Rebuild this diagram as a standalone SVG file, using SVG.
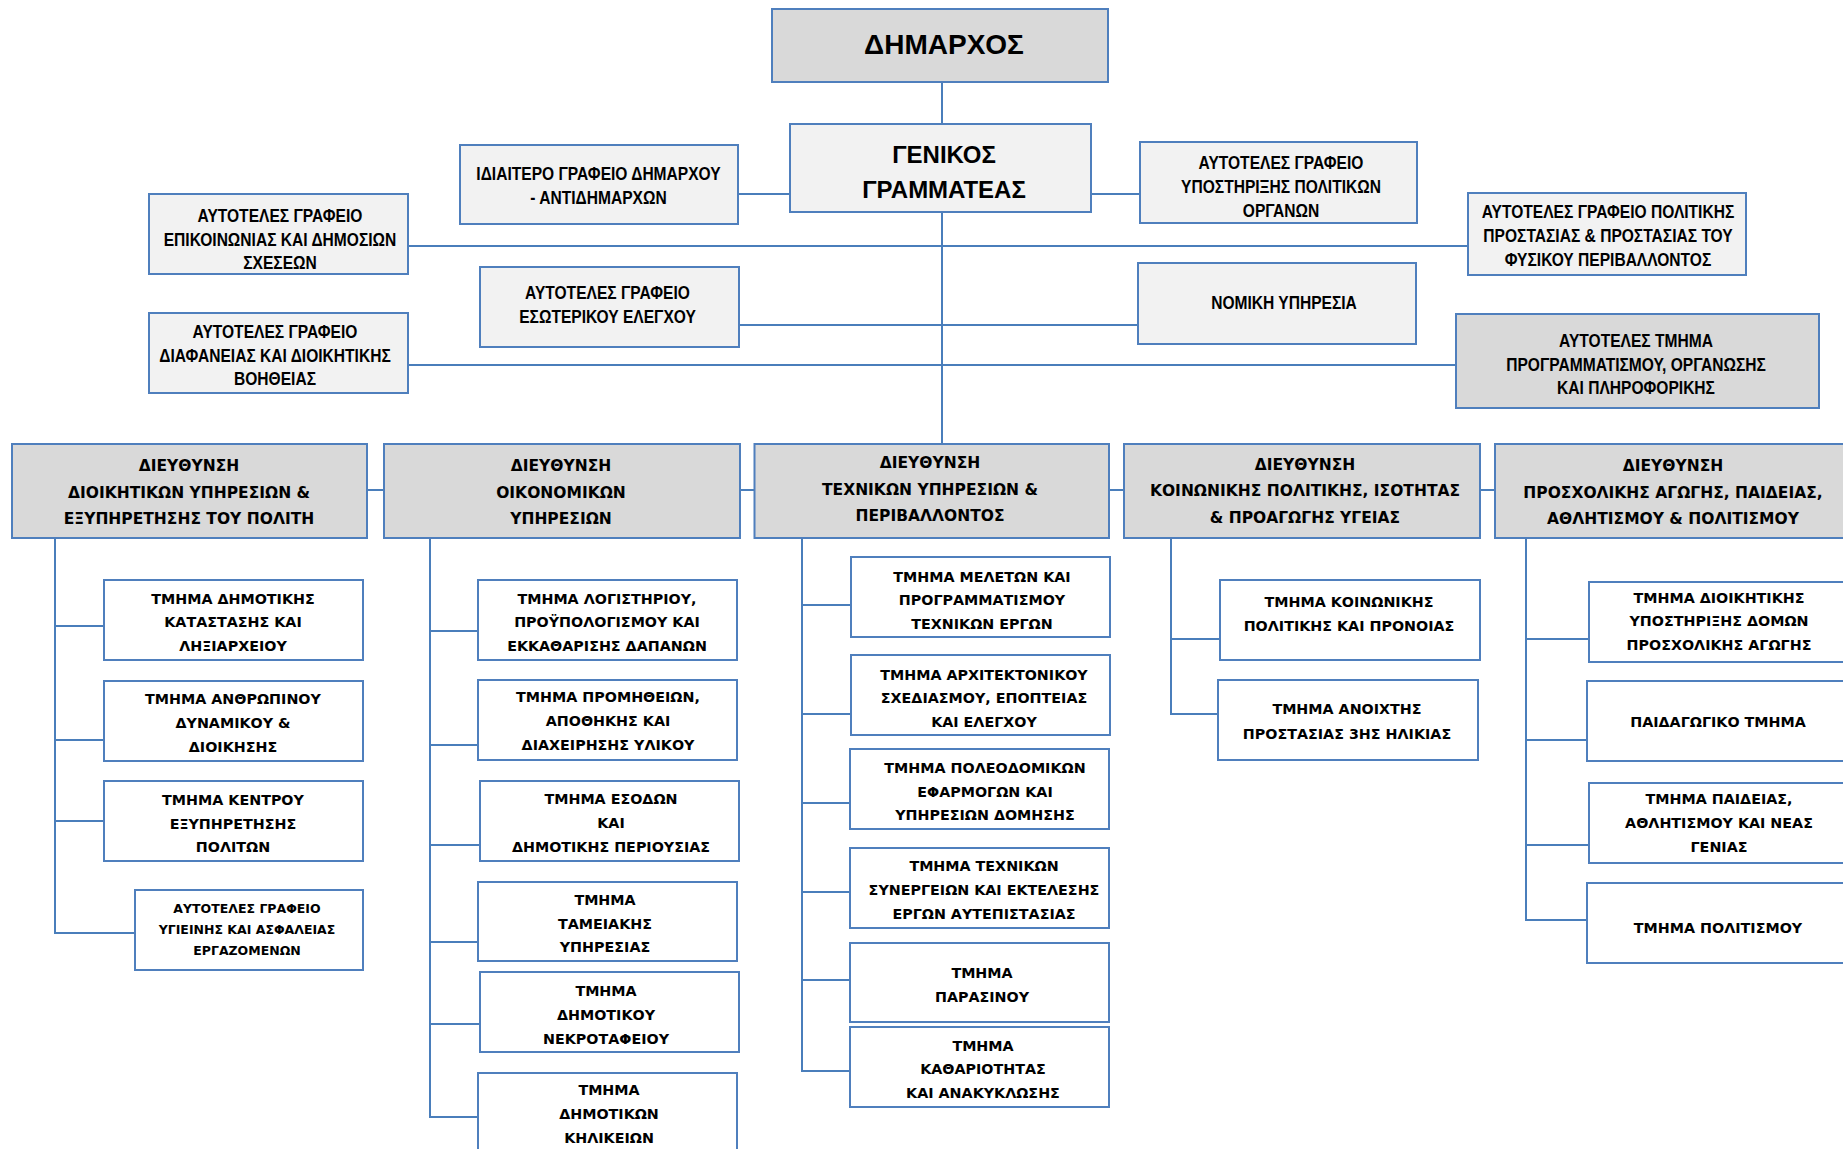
<svg xmlns="http://www.w3.org/2000/svg" width="1843" height="1149" viewBox="0 0 1843 1149">
<style>
.ln{stroke:#4a7ebb;stroke-width:2;fill:none}
.g1,.g2,.w{stroke:#4f7fbd;stroke-width:2}
.g1{fill:#d9d9d9}.g2{fill:#f2f2f2}.w{fill:#ffffff}
text{font-weight:bold;text-anchor:middle;fill:#000}
.t{font-family:"Liberation Sans",sans-serif;font-size:19px}
.t1{font-family:"Liberation Sans",sans-serif;font-size:28px}
.t2{font-family:"Liberation Sans",sans-serif;font-size:24px}
.d{font-family:"DejaVu Sans",sans-serif;font-size:15.5px}
.s{font-family:"DejaVu Sans",sans-serif;font-size:14.3px}
.xs{font-family:"DejaVu Sans",sans-serif;font-size:12.5px}
</style>
<g id="connectors">
<line class="ln" x1="942" y1="82" x2="942" y2="444"/>
<line class="ln" x1="738" y1="194" x2="790" y2="194"/>
<line class="ln" x1="1091" y1="194" x2="1140" y2="194"/>
<line class="ln" x1="408" y1="246" x2="1468" y2="246"/>
<line class="ln" x1="739" y1="325" x2="1138" y2="325"/>
<line class="ln" x1="408" y1="365" x2="1456" y2="365"/>
<line class="ln" x1="367" y1="490" x2="1495" y2="490"/>
<polyline class="ln" points="55,538 55,933 135,933"/>
<line class="ln" x1="55" y1="626" x2="104" y2="626"/>
<line class="ln" x1="55" y1="740" x2="104" y2="740"/>
<line class="ln" x1="55" y1="821" x2="104" y2="821"/>
<polyline class="ln" points="430,538 430,1117 478,1117"/>
<line class="ln" x1="430" y1="631" x2="478" y2="631"/>
<line class="ln" x1="430" y1="745" x2="478" y2="745"/>
<line class="ln" x1="430" y1="845" x2="480" y2="845"/>
<line class="ln" x1="430" y1="942" x2="478" y2="942"/>
<line class="ln" x1="430" y1="1024" x2="480" y2="1024"/>
<polyline class="ln" points="802,538 802,1071 850,1071"/>
<line class="ln" x1="802" y1="605" x2="851" y2="605"/>
<line class="ln" x1="802" y1="714" x2="851" y2="714"/>
<line class="ln" x1="802" y1="803" x2="850" y2="803"/>
<line class="ln" x1="802" y1="892" x2="850" y2="892"/>
<line class="ln" x1="802" y1="980" x2="850" y2="980"/>
<polyline class="ln" points="1171,538 1171,714 1218,714"/>
<line class="ln" x1="1171" y1="639" x2="1220" y2="639"/>
<polyline class="ln" points="1526,538 1526,920 1588,920"/>
<line class="ln" x1="1526" y1="639" x2="1589" y2="639"/>
<line class="ln" x1="1526" y1="740" x2="1588" y2="740"/>
<line class="ln" x1="1526" y1="845" x2="1589" y2="845"/>
</g>
<g id="dimarxos"><rect class="g1" x="772" y="9" width="336" height="73"/><text class="t1" x="944" y="53.5">ΔΗΜΑΡΧΟΣ</text></g>
<g id="genikos"><rect class="g2" x="790" y="124" width="301" height="88"/><text class="t2" x="944" y="162.5">ΓΕΝΙΚΟΣ</text><text class="t2" x="944" y="197.5">ΓΡΑΜΜΑΤΕΑΣ</text></g>
<g id="idiaitero"><rect class="g2" x="460" y="145" width="278" height="79"/><text class="t" transform="matrix(0.82 0 0 1 598.5 0)" x="0" y="180.5">ΙΔΙΑΙΤΕΡΟ ΓΡΑΦΕΙΟ ΔΗΜΑΡΧΟΥ</text><text class="t" transform="matrix(0.82 0 0 1 598.5 0)" x="0" y="203.8">- ΑΝΤΙΔΗΜΑΡΧΩΝ</text></g>
<g id="politika-organa"><rect class="g2" x="1140" y="142" width="277" height="81"/><text class="t" transform="matrix(0.82 0 0 1 1281 0)" x="0" y="169">ΑΥΤΟΤΕΛΕΣ ΓΡΑΦΕΙΟ</text><text class="t" transform="matrix(0.82 0 0 1 1281 0)" x="0" y="193">ΥΠΟΣΤΗΡΙΞΗΣ ΠΟΛΙΤΙΚΩΝ</text><text class="t" transform="matrix(0.82 0 0 1 1281 0)" x="0" y="217">ΟΡΓΑΝΩΝ</text></g>
<g id="epikoinonia"><rect class="g2" x="149" y="194" width="259" height="80"/><text class="t" transform="matrix(0.82 0 0 1 280 0)" x="0" y="222">ΑΥΤΟΤΕΛΕΣ ΓΡΑΦΕΙΟ</text><text class="t" transform="matrix(0.82 0 0 1 280 0)" x="0" y="246">ΕΠΙΚΟΙΝΩΝΙΑΣ ΚΑΙ ΔΗΜΟΣΙΩΝ</text><text class="t" transform="matrix(0.82 0 0 1 280 0)" x="0" y="269">ΣΧΕΣΕΩΝ</text></g>
<g id="politiki-prostasia"><rect class="g2" x="1468" y="193" width="278" height="82"/><text class="t" transform="matrix(0.82 0 0 1 1608 0)" x="0" y="218">ΑΥΤΟΤΕΛΕΣ ΓΡΑΦΕΙΟ ΠΟΛΙΤΙΚΗΣ</text><text class="t" transform="matrix(0.82 0 0 1 1608 0)" x="0" y="242">ΠΡΟΣΤΑΣΙΑΣ &amp; ΠΡΟΣΤΑΣΙΑΣ ΤΟΥ</text><text class="t" transform="matrix(0.82 0 0 1 1608 0)" x="0" y="266">ΦΥΣΙΚΟΥ ΠΕΡΙΒΑΛΛΟΝΤΟΣ</text></g>
<g id="esoterikos-elegxos"><rect class="g2" x="480" y="267" width="259" height="80"/><text class="t" transform="matrix(0.82 0 0 1 607.5 0)" x="0" y="299">ΑΥΤΟΤΕΛΕΣ ΓΡΑΦΕΙΟ</text><text class="t" transform="matrix(0.82 0 0 1 607.5 0)" x="0" y="323">ΕΣΩΤΕΡΙΚΟΥ ΕΛΕΓΧΟΥ</text></g>
<g id="nomiki"><rect class="g2" x="1138" y="263" width="278" height="81"/><text class="t" transform="matrix(0.82 0 0 1 1284 0)" x="0" y="309.5">ΝΟΜΙΚΗ ΥΠΗΡΕΣΙΑ</text></g>
<g id="diafaneia"><rect class="g2" x="149" y="313" width="259" height="80"/><text class="t" transform="matrix(0.82 0 0 1 275 0)" x="0" y="338">ΑΥΤΟΤΕΛΕΣ ΓΡΑΦΕΙΟ</text><text class="t" transform="matrix(0.82 0 0 1 275 0)" x="0" y="362">ΔΙΑΦΑΝΕΙΑΣ ΚΑΙ ΔΙΟΙΚΗΤΙΚΗΣ</text><text class="t" transform="matrix(0.82 0 0 1 275 0)" x="0" y="385.5">ΒΟΗΘΕΙΑΣ</text></g>
<g id="programmatismos"><rect class="g1" x="1456" y="314" width="363" height="94"/><text class="t" transform="matrix(0.82 0 0 1 1636 0)" x="0" y="347">ΑΥΤΟΤΕΛΕΣ ΤΜΗΜΑ</text><text class="t" transform="matrix(0.82 0 0 1 1636 0)" x="0" y="371">ΠΡΟΓΡΑΜΜΑΤΙΣΜΟΥ, ΟΡΓΑΝΩΣΗΣ</text><text class="t" transform="matrix(0.82 0 0 1 1636 0)" x="0" y="394.5">ΚΑΙ ΠΛΗΡΟΦΟΡΙΚΗΣ</text></g>

<g id="dir1"><rect class="g1" x="12" y="444" width="355" height="94"/><text class="d" x="189" y="471">ΔΙΕΥΘΥΝΣΗ</text><text class="d" x="189" y="497.6">ΔΙΟΙΚΗΤΙΚΩΝ ΥΠΗΡΕΣΙΩΝ &amp;</text><text class="d" x="189" y="524.2">ΕΞΥΠΗΡΕΤΗΣΗΣ ΤΟΥ ΠΟΛΙΤΗ</text></g>
<g id="dir2"><rect class="g1" x="384" y="444" width="356" height="94"/><text class="d" x="561" y="471">ΔΙΕΥΘΥΝΣΗ</text><text class="d" x="561" y="497.6">ΟΙΚΟΝΟΜΙΚΩΝ</text><text class="d" x="561" y="524.2">ΥΠΗΡΕΣΙΩΝ</text></g>
<g id="dir3"><rect class="g1" x="754.5" y="444" width="354.5" height="94"/><text class="d" x="930" y="468.3">ΔΙΕΥΘΥΝΣΗ</text><text class="d" x="930" y="494.8">ΤΕΧΝΙΚΩΝ ΥΠΗΡΕΣΙΩΝ &amp;</text><text class="d" x="930" y="521.4">ΠΕΡΙΒΑΛΛΟΝΤΟΣ</text></g>
<g id="dir4"><rect class="g1" x="1124" y="444" width="356" height="94"/><text class="d" x="1305" y="469.7">ΔΙΕΥΘΥΝΣΗ</text><text class="d" x="1305" y="496.2">ΚΟΙΝΩΝΙΚΗΣ ΠΟΛΙΤΙΚΗΣ, ΙΣΟΤΗΤΑΣ</text><text class="d" x="1305" y="523.3">&amp; ΠΡΟΑΓΩΓΗΣ ΥΓΕΙΑΣ</text></g>
<g id="dir5"><rect class="g1" x="1495" y="444" width="356" height="94"/><text class="d" x="1673" y="471">ΔΙΕΥΘΥΝΣΗ</text><text class="d" x="1673" y="497.6">ΠΡΟΣΧΟΛΙΚΗΣ ΑΓΩΓΗΣ, ΠΑΙΔΕΙΑΣ,</text><text class="d" x="1673" y="524.2">ΑΘΛΗΤΙΣΜΟΥ &amp; ΠΟΛΙΤΙΣΜΟΥ</text></g>

<g id="d1-1"><rect class="w" x="104" y="580" width="259" height="80"/><text class="s" x="233" y="603.5">ΤΜΗΜΑ ΔΗΜΟΤΙΚΗΣ</text><text class="s" x="233" y="627.3">ΚΑΤΑΣΤΑΣΗΣ ΚΑΙ</text><text class="s" x="233" y="651.2">ΛΗΞΙΑΡΧΕΙΟΥ</text></g>
<g id="d1-2"><rect class="w" x="104" y="681" width="259" height="80"/><text class="s" x="233" y="704.3">ΤΜΗΜΑ ΑΝΘΡΩΠΙΝΟΥ</text><text class="s" x="233" y="728.2">ΔΥΝΑΜΙΚΟΥ &amp;</text><text class="s" x="233" y="752">ΔΙΟΙΚΗΣΗΣ</text></g>
<g id="d1-3"><rect class="w" x="104" y="781" width="259" height="80"/><text class="s" x="233" y="804.8">ΤΜΗΜΑ ΚΕΝΤΡΟΥ</text><text class="s" x="233" y="828.6">ΕΞΥΠΗΡΕΤΗΣΗΣ</text><text class="s" x="233" y="852.4">ΠΟΛΙΤΩΝ</text></g>
<g id="d1-4"><rect class="w" x="135" y="890" width="228" height="80"/><text class="xs" x="247" y="912.8">ΑΥΤΟΤΕΛΕΣ ΓΡΑΦΕΙΟ</text><text class="xs" x="247" y="933.5">ΥΓΙΕΙΝΗΣ ΚΑΙ ΑΣΦΑΛΕΙΑΣ</text><text class="xs" x="247" y="954.6">ΕΡΓΑΖΟΜΕΝΩΝ</text></g>

<g id="d2-1"><rect class="w" x="478" y="580" width="259" height="80"/><text class="s" x="607" y="603.5">ΤΜΗΜΑ ΛΟΓΙΣΤΗΡΙΟΥ,</text><text class="s" x="607" y="627.3">ΠΡΟΫΠΟΛΟΓΙΣΜΟΥ ΚΑΙ</text><text class="s" x="607" y="651.2">ΕΚΚΑΘΑΡΙΣΗΣ ΔΑΠΑΝΩΝ</text></g>
<g id="d2-2"><rect class="w" x="478" y="680" width="259" height="80"/><text class="s" x="608" y="702.1">ΤΜΗΜΑ ΠΡΟΜΗΘΕΙΩΝ,</text><text class="s" x="608" y="726.3">ΑΠΟΘΗΚΗΣ ΚΑΙ</text><text class="s" x="608" y="749.7">ΔΙΑΧΕΙΡΗΣΗΣ ΥΛΙΚΟΥ</text></g>
<g id="d2-3"><rect class="w" x="480" y="781" width="259" height="80"/><text class="s" x="611" y="803.8">ΤΜΗΜΑ ΕΣΟΔΩΝ</text><text class="s" x="611" y="827.7">ΚΑΙ</text><text class="s" x="611" y="851.5">ΔΗΜΟΤΙΚΗΣ ΠΕΡΙΟΥΣΙΑΣ</text></g>
<g id="d2-4"><rect class="w" x="478" y="882" width="259" height="79"/><text class="s" x="605" y="904.7">ΤΜΗΜΑ</text><text class="s" x="605" y="928.5">ΤΑΜΕΙΑΚΗΣ</text><text class="s" x="605" y="952.4">ΥΠΗΡΕΣΙΑΣ</text></g>
<g id="d2-5"><rect class="w" x="480" y="972" width="259" height="80"/><text class="s" x="606" y="995.9">ΤΜΗΜΑ</text><text class="s" x="606" y="1020.2">ΔΗΜΟΤΙΚΟΥ</text><text class="s" x="606" y="1044.1">ΝΕΚΡΟΤΑΦΕΙΟΥ</text></g>
<g id="d2-6"><rect class="w" x="478" y="1073" width="259" height="82"/><text class="s" x="609" y="1095">ΤΜΗΜΑ</text><text class="s" x="609" y="1118.8">ΔΗΜΟΤΙΚΩΝ</text><text class="s" x="609" y="1142.7">ΚΗΛΙΚΕΙΩΝ</text></g>

<g id="d3-1"><rect class="w" x="851" y="557" width="259" height="80"/><text class="s" x="982" y="581.5">ΤΜΗΜΑ ΜΕΛΕΤΩΝ ΚΑΙ</text><text class="s" x="982" y="605.3">ΠΡΟΓΡΑΜΜΑΤΙΣΜΟΥ</text><text class="s" x="982" y="629.2">ΤΕΧΝΙΚΩΝ ΕΡΓΩΝ</text></g>
<g id="d3-2"><rect class="w" x="851" y="655" width="259" height="80"/><text class="s" x="984" y="679.6">ΤΜΗΜΑ ΑΡΧΙΤΕΚΤΟΝΙΚΟΥ</text><text class="s" x="984" y="703.4">ΣΧΕΔΙΑΣΜΟΥ, ΕΠΟΠΤΕΙΑΣ</text><text class="s" x="984" y="727.2">ΚΑΙ ΕΛΕΓΧΟΥ</text></g>
<g id="d3-3"><rect class="w" x="850" y="749" width="259" height="80"/><text class="s" x="985" y="772.7">ΤΜΗΜΑ ΠΟΛΕΟΔΟΜΙΚΩΝ</text><text class="s" x="985" y="796.5">ΕΦΑΡΜΟΓΩΝ ΚΑΙ</text><text class="s" x="985" y="820.3">ΥΠΗΡΕΣΙΩΝ ΔΟΜΗΣΗΣ</text></g>
<g id="d3-4"><rect class="w" x="850" y="848" width="259" height="80"/><text class="s" x="984" y="871.2">ΤΜΗΜΑ ΤΕΧΝΙΚΩΝ</text><text class="s" x="984" y="895.1">ΣΥΝΕΡΓΕΙΩΝ ΚΑΙ ΕΚΤΕΛΕΣΗΣ</text><text class="s" x="984" y="919.4">ΕΡΓΩΝ ΑΥΤΕΠΙΣΤΑΣΙΑΣ</text></g>
<g id="d3-5"><rect class="w" x="850" y="943" width="259" height="79"/><text class="s" x="982" y="978.1">ΤΜΗΜΑ</text><text class="s" x="982" y="1001.9">ΠΑΡΑΣΙΝΟΥ</text></g>
<g id="d3-6"><rect class="w" x="850" y="1027" width="259" height="80"/><text class="s" x="983" y="1050.5">ΤΜΗΜΑ</text><text class="s" x="983" y="1074.4">ΚΑΘΑΡΙΟΤΗΤΑΣ</text><text class="s" x="983" y="1098.2">ΚΑΙ ΑΝΑΚΥΚΛΩΣΗΣ</text></g>

<g id="d4-1"><rect class="w" x="1220" y="580" width="260" height="80"/><text class="s" x="1349" y="606.7">ΤΜΗΜΑ ΚΟΙΝΩΝΙΚΗΣ</text><text class="s" x="1349" y="631">ΠΟΛΙΤΙΚΗΣ ΚΑΙ ΠΡΟΝΟΙΑΣ</text></g>
<g id="d4-2"><rect class="w" x="1218" y="680" width="260" height="80"/><text class="s" x="1347" y="714.4">ΤΜΗΜΑ ΑΝΟΙΧΤΗΣ</text><text class="s" x="1347" y="738.7">ΠΡΟΣΤΑΣΙΑΣ 3ΗΣ ΗΛΙΚΙΑΣ</text></g>

<g id="d5-1"><rect class="w" x="1589" y="582" width="260" height="80"/><text class="s" x="1719" y="602.6">ΤΜΗΜΑ ΔΙΟΙΚΗΤΙΚΗΣ</text><text class="s" x="1719" y="626.4">ΥΠΟΣΤΗΡΙΞΗΣ ΔΟΜΩΝ</text><text class="s" x="1719" y="650.2">ΠΡΟΣΧΟΛΙΚΗΣ ΑΓΩΓΗΣ</text></g>
<g id="d5-2"><rect class="w" x="1587" y="681" width="262" height="80"/><text class="s" x="1718" y="727.2">ΠΑΙΔΑΓΩΓΙΚΟ ΤΜΗΜΑ</text></g>
<g id="d5-3"><rect class="w" x="1589" y="783" width="260" height="80"/><text class="s" x="1719" y="804.2">ΤΜΗΜΑ ΠΑΙΔΕΙΑΣ,</text><text class="s" x="1719" y="828.2">ΑΘΛΗΤΙΣΜΟΥ ΚΑΙ ΝΕΑΣ</text><text class="s" x="1719" y="852">ΓΕΝΙΑΣ</text></g>
<g id="d5-4"><rect class="w" x="1587" y="883" width="262" height="80"/><text class="s" x="1718" y="933.2">ΤΜΗΜΑ ΠΟΛΙΤΙΣΜΟΥ</text></g>
</svg>
